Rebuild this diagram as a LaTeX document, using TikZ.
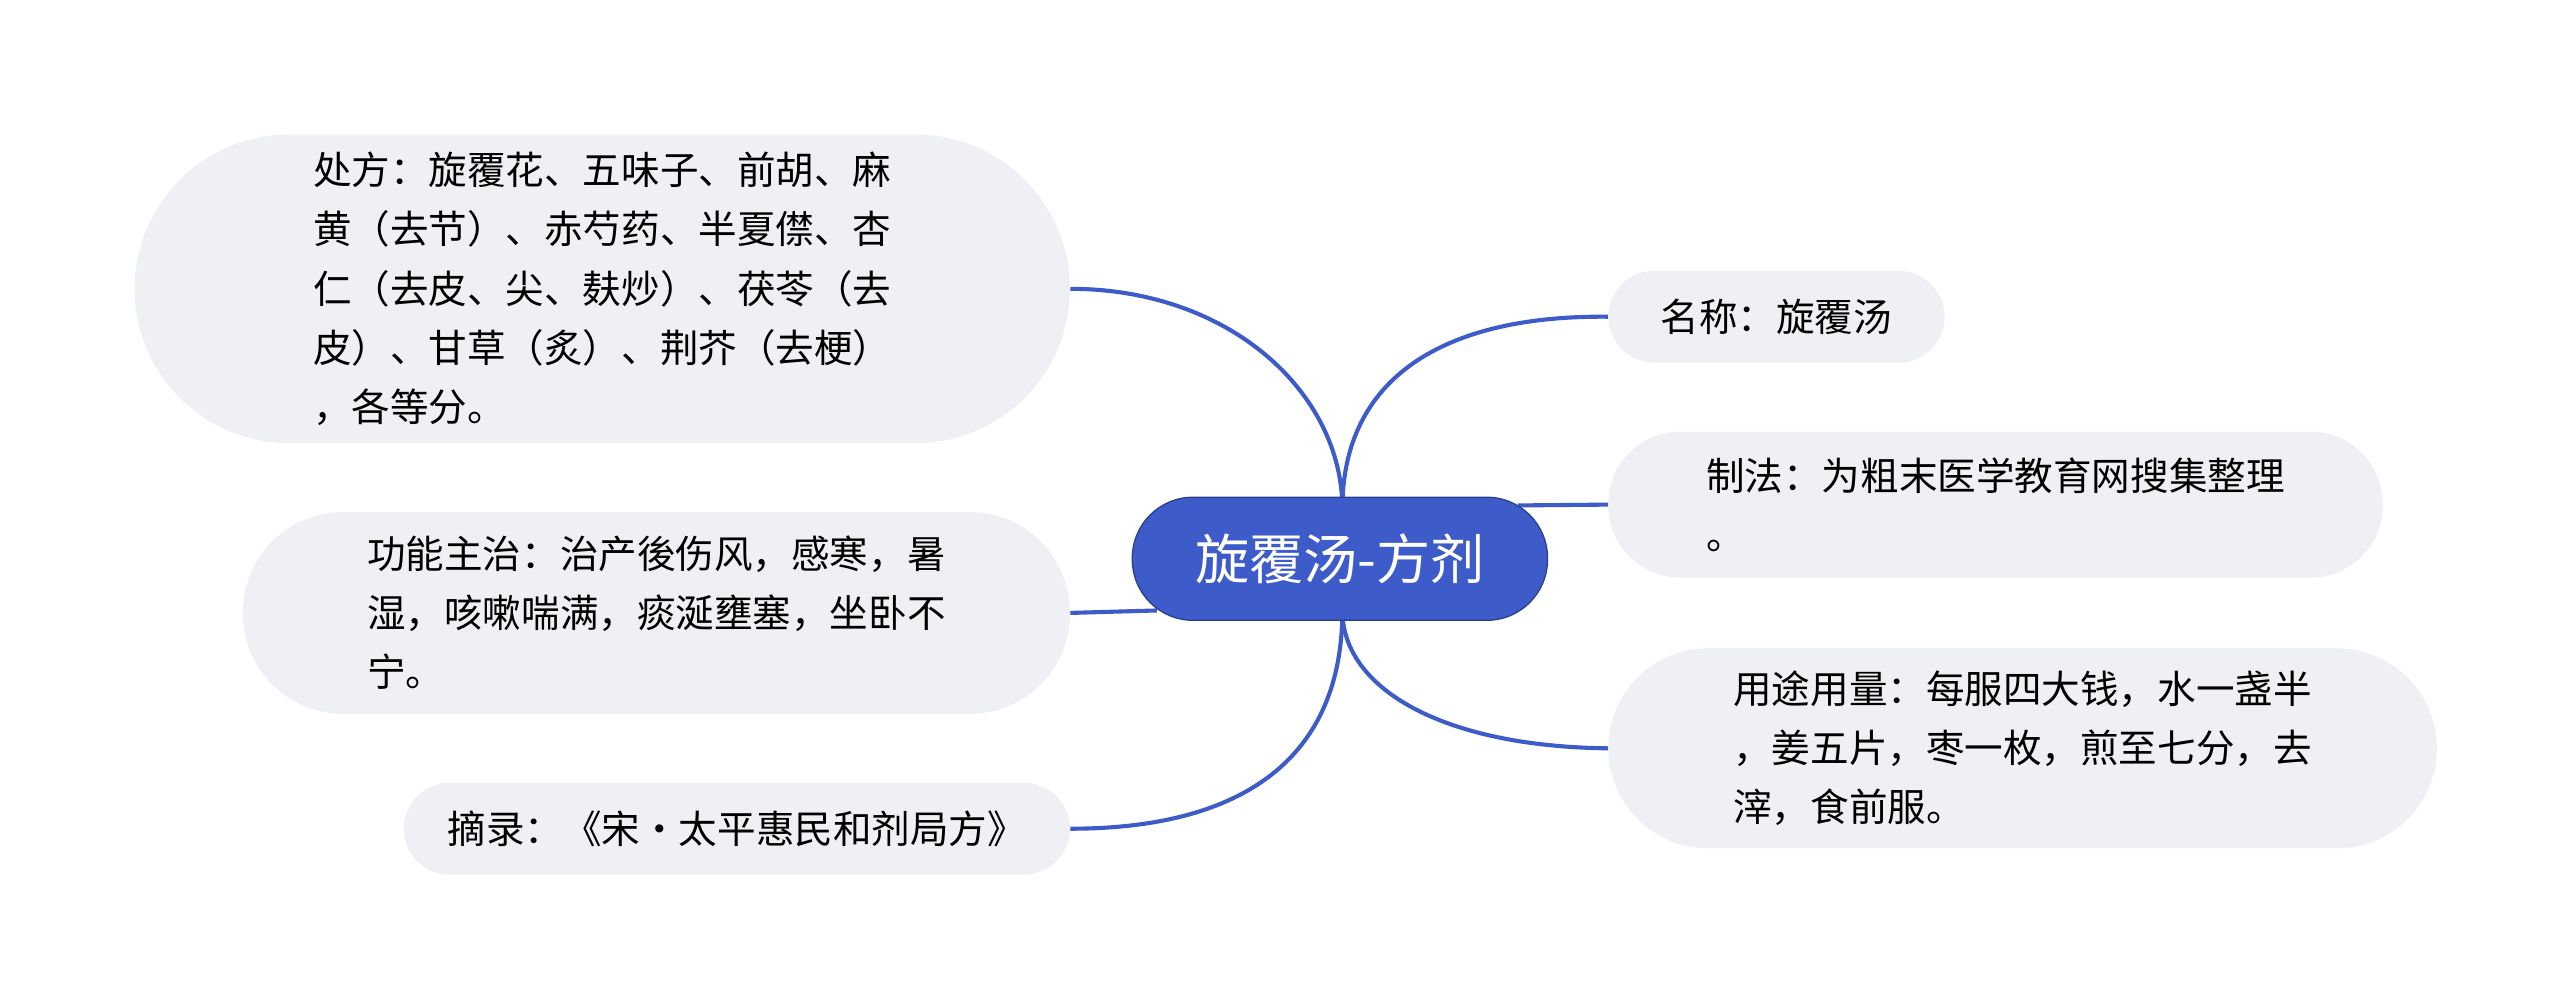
\documentclass[tikz,border=0pt]{standalone}
\usepackage{fontspec}
\newfontfamily\cjk{Noto Sans CJK SC}
\usetikzlibrary{backgrounds}
\definecolor{main}{HTML}{3D5BC9}
\definecolor{leaf}{HTML}{EEF0F4}
\begin{document}
\begin{tikzpicture}[x=1pt,y=-1pt,
  leafbox/.style={fill=leaf,draw=none,font=\cjk\fontsize{23.5}{36}\selectfont,align=left,inner sep=0pt},
  conn/.style={draw=main,line width=2.5pt}]
\useasboundingbox (0,0) rectangle (1560,612);
% connectors
\coordinate (ct) at (818,310);
\coordinate (cb) at (818,372);
\coordinate (cr) at (925,308);
\coordinate (cl) at (705,372);
\node[leafbox,minimum width=570,minimum height=188,rounded corners=94] (l1) at (367,176) {处方：旋覆花、五味子、前胡、麻\\黄（去节）、赤芍药、半夏僸、杏\\仁（去皮、尖、麸炒）、茯苓（去\\皮）、甘草（炙）、荆芥（去梗）\\，各等分。};
\node[leafbox,minimum width=504,minimum height=123,rounded corners=61] (l2) at (400,373.5) {功能主治：治产後伤风，感寒，暑\\湿，咳嗽喘满，痰涎壅塞，坐卧不\\宁。};
\node[leafbox,minimum width=406,minimum height=56,rounded corners=28] (l3) at (449,505) {摘录：《宋·太平惠民和剂局方》};
\node[leafbox,minimum width=205,minimum height=56,rounded corners=28] (r1) at (1082.5,193) {名称：旋覆汤};
\node[leafbox,minimum width=472,minimum height=89,rounded corners=44] (r2) at (1216,307.5) {制法：为粗末医学教育网搜集整理\\。};
\node[leafbox,minimum width=505,minimum height=122,rounded corners=61] (r3) at (1232.5,456) {用途用量：每服四大钱，水一盏半\\，姜五片，枣一枚，煎至七分，去\\滓，食前服。};
\draw[conn] (ct) .. controls (818,230) and (880,192) .. (r1.west);
\draw[conn] (cr) -- (r2.west);
\draw[conn] (cb) .. controls (818,420) and (880,455) .. (r3.west);
\draw[conn] (ct) .. controls (818,240) and (750,176) .. (l1.east);
\draw[conn] (cl) -- (l2.east);
\draw[conn] (cb) .. controls (818,460) and (760,505) .. (l3.east);
\node[fill=main,draw=main!70!black,line width=0.8pt,minimum width=253,minimum height=75,rounded corners=37,text=white,font=\cjk\fontsize{33}{36}\selectfont] (c) at (816.5,340.5) {旋覆汤-方剂};
\end{tikzpicture}
\end{document}
